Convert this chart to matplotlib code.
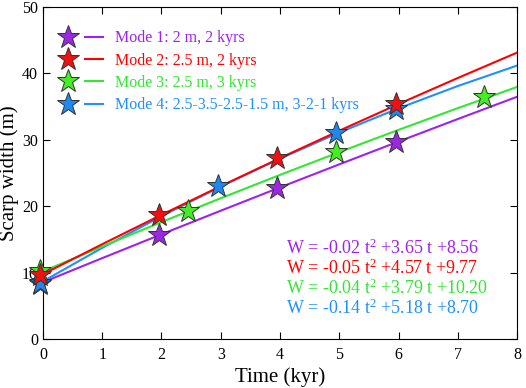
import matplotlib
matplotlib.use("Agg")
import matplotlib.pyplot as plt
from matplotlib.legend_handler import HandlerTuple
from matplotlib.lines import Line2D

plt.rcParams["font.family"] = ["Liberation Serif", "DejaVu Serif"]
plt.rcParams["mathtext.fontset"] = "custom"
plt.rcParams["mathtext.rm"] = "Liberation Serif"
plt.rcParams["mathtext.it"] = "Liberation Serif"

# Fitted curves at each kyr
t_curve = [0, 1, 2, 3, 4, 5, 6, 7, 8]
w1_curve = [8.56, 12.19, 15.78, 19.33, 22.84, 26.31, 29.74, 33.13, 36.48]
w2_curve = [9.77, 14.29, 18.71, 23.03, 27.25, 31.37, 35.39, 39.31, 43.13]
w3_curve = [10.20, 13.95, 17.62, 21.21, 24.72, 28.15, 31.50, 34.77, 37.96]
w4_curve = [8.70, 13.74, 18.50, 22.98, 27.18, 31.10, 34.74, 38.10, 41.18]

# Star points
t1 = [-0.05, 1.95, 3.95, 5.95]
w1 = [8.3, 15.6, 22.7, 29.6]
t2 = [-0.05, 1.95, 3.95, 5.95]
w2 = [9.6, 18.7, 27.2, 35.4]
t3 = [-0.05, 2.45, 4.95, 7.45]
w3 = [10.2, 19.3, 28.2, 36.5]
t4 = [-0.05, 2.95, 4.95, 5.95]
w4 = [8.5, 23.0, 31.1, 34.6]

labels = ["Mode 1: 2 m, 2 kyrs", "Mode 2: 2.5 m, 2 kyrs",
          "Mode 3: 2.5 m, 3 kyrs", "Mode 4: 2.5-3.5-2.5-1.5 m, 3-2-1 kyrs"]
equations = ["W = -0.02 t$^2$ +3.65 t +8.56", "W = -0.05 t$^2$ +4.57 t +9.77",
             "W = -0.04 t$^2$ +3.79 t +10.20", "W = -0.14 t$^2$ +5.18 t +8.70"]
line_colors = ["#A020F0", "#FF0000", "#33E633", "#1E90FF"]
star_colors = ["#9A28E0", "#F01010", "#44EE22", "#1E88F0"]

fig = plt.figure(figsize=(5.26, 3.88), dpi=100)
ax = fig.add_axes([0.0817, 0.126, 0.9013, 0.856])

curves = [w1_curve, w2_curve, w3_curve, w4_curve]
pts = [(t1, w1), (t2, w2), (t3, w3), (t4, w4)]
zs = [2, 5, 4, 3]
handles = []
for i in range(4):
    ax.plot(t_curve, curves[i], color=line_colors[i], lw=1.5, zorder=zs[i])
for i in range(4):
    ax.plot(pts[i][0], pts[i][1], ls="none", marker="*", ms=17,
            mfc=star_colors[i], mec="#333333", mew=0.7, zorder=10 + zs[i],
            clip_on=False)
    star = Line2D([], [], ls="none", marker="*", ms=17, mfc=star_colors[i],
                  mec="#333333", mew=0.7)
    ln = Line2D([], [], color=line_colors[i], lw=1.5)
    handles.append((star, ln))

leg = ax.legend(handles, labels, handler_map={tuple: HandlerTuple(ndivide=None, pad=0.5)},
                loc="upper left", bbox_to_anchor=(0.034, 0.93), borderaxespad=0,
                borderpad=0, frameon=False, fontsize=11.5, handlelength=2.75,
                handletextpad=0.75, labelspacing=0.4)
for txt, c in zip(leg.get_texts(), line_colors):
    txt.set_color(c)

for i, eq in enumerate(equations):
    ax.text(0.513, 0.272 - i * 0.0602, eq, transform=ax.transAxes,
            color=line_colors[i], fontsize=13, va="center", ha="left")

ax.set_xlim(0, 8)
ax.set_ylim(0, 50)
ax.set_xticks(range(0, 9))
ax.set_yticks(range(0, 51, 10))
ax.tick_params(direction="in", top=True, right=True, length=5, labelsize=11.5)
ax.tick_params(axis="x", pad=6)
ax.set_xlabel("Time (kyr)", fontsize=15, labelpad=3)
ax.set_ylabel("Scarp width (m)", fontsize=15, labelpad=2)

fig.savefig("out.png", dpi=100)
